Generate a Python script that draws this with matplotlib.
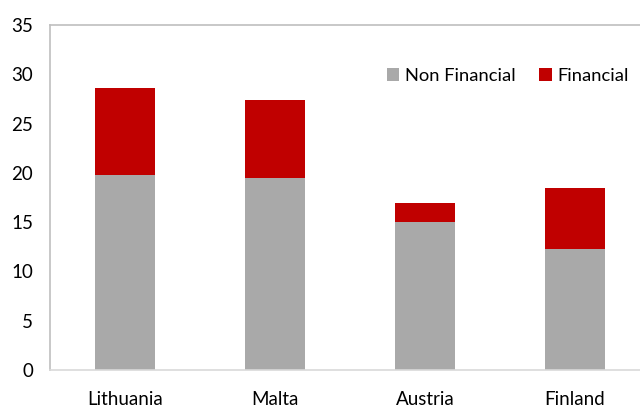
import matplotlib.pyplot as plt
import numpy as np

countries = ["Lithuania", "Malta", "Austria", "Finland"]
non_financial = [19.8, 19.5, 15.0, 12.3]
financial = [8.8, 7.9, 1.9, 6.2]

plt.rcParams["font.family"] = ["Lato", "DejaVu Sans"]

fig = plt.figure(figsize=(6.4, 4.07), dpi=100)
# the plot area runs past the right edge of the picture, as in the original
ax = fig.add_axes([50 / 640, 37 / 407, 600 / 640, 345 / 407])

x = np.arange(len(countries))
ax.bar(x, non_financial, width=0.4, color="#a9a9a9", label="Non Financial")
ax.bar(x, financial, width=0.4, bottom=non_financial, color="#c00000", label="Financial")

ax.set_xlim(-0.5, 3.5)
ax.set_ylim(0, 35)
ax.set_yticks(range(0, 36, 5))
ax.set_xticks(x)
ax.set_xticklabels(countries)
ax.tick_params(axis="both", length=0, labelsize=13.5, colors="black")
ax.tick_params(axis="y", pad=12)
ax.tick_params(axis="x", pad=15)

for side in ["left", "top", "right"]:
    ax.spines[side].set_color("#bfbfbf")
    ax.spines[side].set_linewidth(1.2)
ax.spines["bottom"].set_color("#d9d9d9")
ax.spines["bottom"].set_linewidth(1.2)

ax.legend(loc="upper left", bbox_to_anchor=(0.561, 0.875), ncol=2, frameon=False,
          fontsize=13.2, handlelength=0.7, handleheight=0.7, handletextpad=0.3,
          columnspacing=1.3, borderaxespad=0, borderpad=0)

fig.savefig("out.png", dpi=100)
